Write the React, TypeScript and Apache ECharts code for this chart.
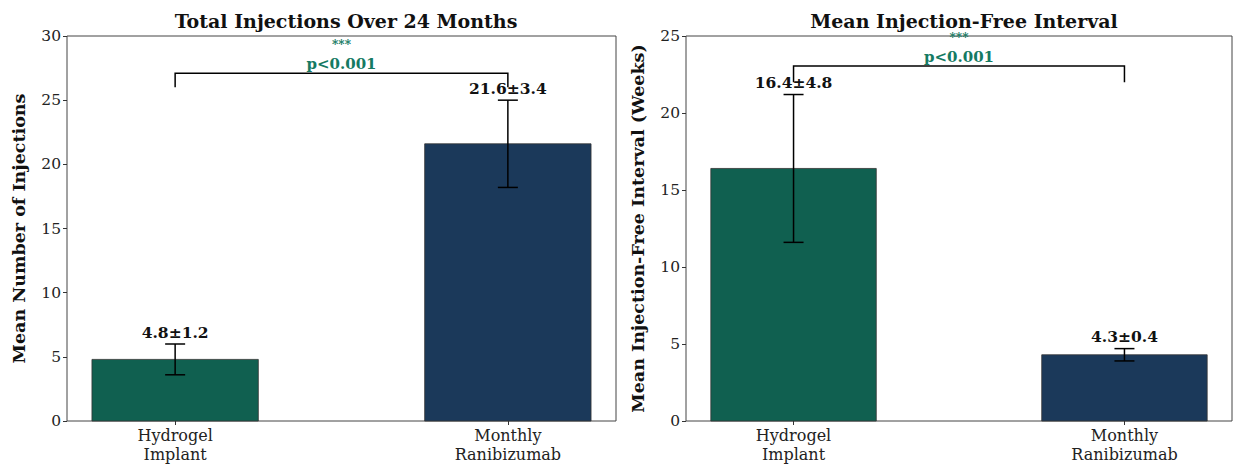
import React, { useEffect, useRef } from "react";
import * as echarts from "echarts";

const categories = ["Hydrogel\nImplant", "Monthly\nRanibizumab"];
const injectionMeans = [4.8, 21.6];
const injectionSDs = [1.2, 3.4];
const intervalMeans = [16.4, 4.3];
const intervalSDs = [4.8, 0.4];
const barColors = ["#106050", "#1b395a"];
// bracket: [leftIndex, rightIndex, endY, topY]
const injectionBracket = [0, 1, 26.0, 27.1];
const intervalBracket = [0, 1, 22.0, 23.05];
const sigStars = "***";
const sigP = "p<0.001";
const titles = ["Total Injections Over 24 Months", "Mean Injection-Free Interval"];
const yNames = ["Mean Number of Injections", "Mean Injection-Free Interval (Weeks)"];
const yMax = [30, 25];

const FONT = "DejaVu Serif";

export default function App() {
  const ref = useRef<HTMLDivElement>(null);
  useEffect(() => {
    if (!ref.current) return;
    const chart = echarts.init(ref.current, null, { renderer: "svg" });

    const xAxisBase = (gi: number) => ({
      type: "value",
      gridIndex: gi,
      min: -0.325,
      max: 1.325,
      position: "bottom",
      splitLine: { show: false },
      axisLine: { show: false, onZero: false },
      axisTick: { show: true, length: 4, customValues: [0, 1], lineStyle: { color: "#333" } },
      axisLabel: {
        customValues: [0, 1],
        formatter: (v: number) => categories[Math.round(v)] ?? "",
        fontFamily: FONT,
        fontSize: 16,
        color: "#222",
        lineHeight: 19,
        margin: 5,
      },
    });
    const yAxisBase = (gi: number) => ({
      type: "value",
      gridIndex: gi,
      min: 0,
      max: yMax[gi],
      interval: 5,
      position: "left",
      name: yNames[gi],
      nameLocation: "middle",
      nameGap: 39,
      nameTextStyle: { fontFamily: FONT, fontSize: 17.5, fontWeight: "bold", color: "#111" },
      splitLine: { show: false },
      axisLine: { show: false, onZero: false },
      axisTick: { show: true, length: 4, lineStyle: { color: "#333" } },
      axisLabel: { fontFamily: FONT, fontSize: 15.5, color: "#222", margin: 6 },
    });

    const barSeries = (gi: number, means: number[]) => ({
      type: "custom",
      xAxisIndex: gi,
      yAxisIndex: gi,
      clip: false,
      data: means.map((v, i) => [i, v]),
      renderItem: (params: any, api: any) => {
        const x = api.value(0);
        const v = api.value(1);
        const p1 = api.coord([x - 0.25, v]);
        const p2 = api.coord([x + 0.25, 0]);
        return {
          type: "rect",
          shape: { x: p1[0], y: p1[1], width: p2[0] - p1[0], height: p2[1] - p1[1] },
          style: { fill: barColors[params.dataIndex], stroke: "#333", lineWidth: 0.8 },
        };
      },
    });

    const errSeries = (gi: number, means: number[], sds: number[]) => ({
      type: "custom",
      xAxisIndex: gi,
      yAxisIndex: gi,
      clip: false,
      z: 5,
      data: means.map((v, i) => [i, v, sds[i]]),
      renderItem: (params: any, api: any) => {
        const x = api.value(0);
        const m = api.value(1);
        const s = api.value(2);
        const top = api.coord([x, m + s]);
        const bot = api.coord([x, m - s]);
        const ls = { stroke: "#000", lineWidth: 1.5 };
        return {
          type: "group",
          children: [
            { type: "line", shape: { x1: top[0], y1: top[1], x2: bot[0], y2: bot[1] }, style: ls },
            { type: "line", shape: { x1: top[0] - 10, y1: top[1], x2: top[0] + 10, y2: top[1] }, style: ls },
            { type: "line", shape: { x1: bot[0] - 10, y1: bot[1], x2: bot[0] + 10, y2: bot[1] }, style: ls },
            {
              type: "text",
              x: top[0],
              y: top[1] - 4,
              style: {
                text: `${m.toFixed(1)}±${s.toFixed(1)}`,
                align: "center",
                verticalAlign: "bottom",
                font: `bold 15.5px "${FONT}"`,
                fill: "#111",
              },
            },
          ],
        };
      },
    });

    const bracketSeries = (gi: number, b: number[]) => ({
      type: "custom",
      xAxisIndex: gi,
      yAxisIndex: gi,
      clip: false,
      z: 6,
      data: [b],
      renderItem: (params: any, api: any) => {
        const x0 = api.value(0);
        const x1 = api.value(1);
        const yEnd = api.value(2);
        const yTop = api.value(3);
        const a = api.coord([x0, yEnd]);
        const b2 = api.coord([x0, yTop]);
        const c = api.coord([x1, yTop]);
        const d = api.coord([x1, yEnd]);
        const cx = (b2[0] + c[0]) / 2;
        return {
          type: "group",
          children: [
            {
              type: "polyline",
              shape: { points: [a, b2, c, d] },
              style: { stroke: "#000", lineWidth: 1.5, fill: null },
            },
            {
              type: "text",
              x: cx,
              y: b2[1] - 2,
              style: {
                text: sigP,
                align: "center",
                verticalAlign: "bottom",
                font: `bold 15px "${FONT}"`,
                fill: "#157a63",
              },
            },
            {
              type: "text",
              x: cx,
              y: b2[1] - 22,
              style: {
                text: sigStars,
                align: "center",
                verticalAlign: "bottom",
                font: `bold 12px "${FONT}"`,
                fill: "#157a63",
              },
            },
          ],
        };
      },
    });

    const titleStyle = { fontFamily: FONT, fontSize: 19, fontWeight: "bold", color: "#111" };
    chart.setOption({
      animation: false,
      title: [
        { text: titles[0], left: 341, top: 6, textAlign: "center", textStyle: titleStyle },
        { text: titles[1], left: 959, top: 6, textAlign: "center", textStyle: titleStyle },
      ],
      grid: [
        { left: 67, right: 1234 - 616, top: 36, bottom: 466 - 421, show: true, borderColor: "#444", borderWidth: 1 },
        { left: 686, right: 2, top: 36, bottom: 466 - 421, show: true, borderColor: "#444", borderWidth: 1 },
      ],
      xAxis: [xAxisBase(0), xAxisBase(1)],
      yAxis: [yAxisBase(0), yAxisBase(1)],
      series: [
        barSeries(0, injectionMeans),
        errSeries(0, injectionMeans, injectionSDs),
        bracketSeries(0, injectionBracket),
        barSeries(1, intervalMeans),
        errSeries(1, intervalMeans, intervalSDs),
        bracketSeries(1, intervalBracket),
      ],
    });
    return () => chart.dispose();
  }, []);
  return (
    <div
      ref={ref}
      style={{ position: "fixed", left: 0, top: 0, width: 1234, height: 466, background: "#fff" }}
    />
  );
}
